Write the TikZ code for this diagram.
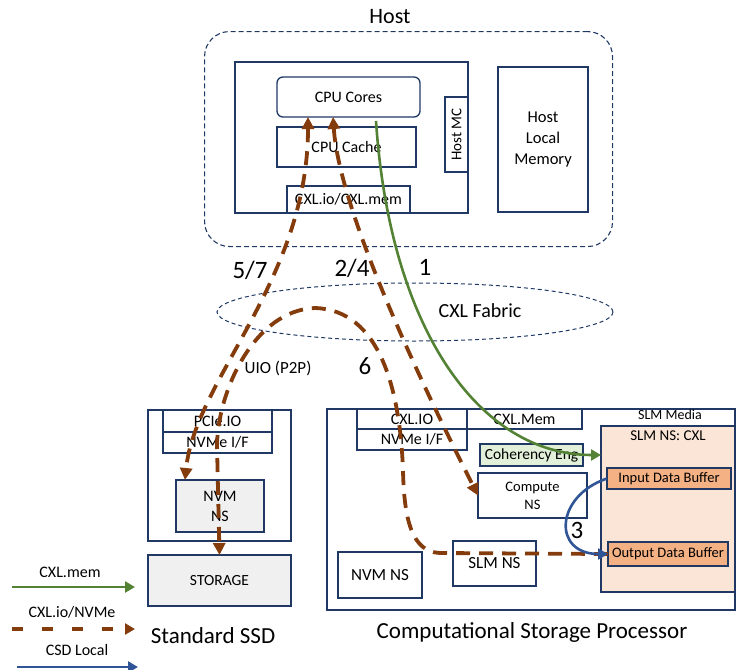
\documentclass[tikz,border=0pt]{standalone}
\usepackage{fontspec}
\setmainfont{Carlito}
\usetikzlibrary{positioning, shapes.geometric, arrows.meta}
\definecolor{boxblue}{HTML}{1F3864}
\definecolor{boxgray}{HTML}{F0F0F0}
\definecolor{buforange}{HTML}{F4B183}
\definecolor{medialight}{HTML}{FBE5D6}
\definecolor{cohgreen}{HTML}{E2F0D9}
\definecolor{memgreen}{HTML}{548235}
\definecolor{iobrown}{HTML}{843C0C}
\definecolor{localblue}{HTML}{2F5597}
\tikzset{
	node distance=0pt,
	every text node part/.style= {
		align=center
	},
	>={Triangle[length=12pt,width=12pt]},
	block/.style= {
		rectangle,
		draw=boxblue,
		line width=1.3pt,
		anchor=north west,
		inner sep=0pt,
		outer sep=0pt,
		font=\fontsize{16}{19}\selectfont
	},
	graybox/.style= {
		block,
		fill=boxgray
	},
	bufbox/.style= {
		block,
		fill=buforange,
		font=\fontsize{14.5}{17}\selectfont
	},
	title/.style= {
		font=\fontsize{23}{27}\selectfont
	},
	num/.style= {
		font=\fontsize{25}{29}\selectfont
	},
	legendtxt/.style= {
		font=\fontsize{16}{19}\selectfont
	},
	memflow/.style= {
		->,
		draw=memgreen,
		line width=2.6pt,
		>={Triangle[length=10pt,width=11pt]}
	},
	ioflow/.style= {
		draw=iobrown,
		line width=3.8pt,
		dash pattern=on 14pt off 9pt
	},
	localflow/.style= {
		->,
		draw=localblue,
		line width=2.6pt,
		>={Triangle[length=10pt,width=11pt]}
	}
}

\begin{document}
\begin{tikzpicture}[x=1pt, y=-1pt]
	\useasboundingbox (0,0) rectangle (737,670);
	
	% host side
	\node(host)[rectangle, draw=boxblue, line width=1.1pt, dash pattern=on 5pt off 3pt, rounded corners=25pt, anchor=north west, minimum width=408pt, minimum height=215pt] at (204,31) {};
	\node(hostlbl)[font=\fontsize{22}{26}\selectfont] at (390,17) {Host};
	\node(cpu)[block, minimum width=233pt, minimum height=151pt] at (235,62) {};
	\node(cores)[block, rounded corners=6pt, minimum width=143pt, minimum height=40pt] at (277,77) {CPU Cores};
	\node(cache)[block, minimum width=139pt, minimum height=40pt] at (277,127) {CPU Cache};
	\node(hostmc)[block, minimum width=23pt, minimum height=75pt, font=\fontsize{15}{18}\selectfont] at (445,97) {\rotatebox{90}{Host MC}};
	\node(cxlhost)[block, minimum width=123pt, minimum height=27pt] at (287,186) {CXL.io/CXL.mem};
	\node(hostmem)[block, minimum width=90pt, minimum height=145pt, font=\fontsize{16.5}{21}\selectfont] at (498,67) {Host\\Local\\Memory};
	
	% fabric
	\node(fabric)[ellipse, draw=boxblue, line width=1pt, dash pattern=on 4pt off 3pt, minimum width=396pt, minimum height=58pt] at (415,312) {};
	\node(fabriclbl)[font=\fontsize{20}{24}\selectfont] at (480,311) {CXL Fabric};
	
	% standard ssd
	\node(ssd)[block, minimum width=143pt, minimum height=131pt] at (148,410) {};
	\node(pcie)[block, minimum width=109pt, minimum height=22pt] at (163,410) {PCIe.IO};
	\node(nvmeif)[block, minimum width=109pt, minimum height=21pt, below=of pcie] {NVMe I/F};
	\node(nvmns)[graybox, minimum width=88pt, minimum height=52pt, font=\fontsize{16}{20}\selectfont] at (176,480) {NVM\\NS};
	\node(storage)[graybox, minimum width=143pt, minimum height=51pt, font=\fontsize{15.5}{18}\selectfont] at (148,555) {STORAGE};
	\node(ssdlbl)[title] at (213,636) {Standard SSD};
	
	% computational storage processor
	\node(csp)[block, minimum width=408pt, minimum height=201pt] at (327,409) {};
	\node(cxlio)[block, minimum width=110pt, minimum height=20pt] at (357,409) {CXL.IO};
	\node(nvmeif2)[block, minimum width=110pt, minimum height=21pt, below=of cxlio] {NVMe I/F};
	\node(cxlmem)[block, minimum width=115pt, minimum height=20pt, right=of cxlio] {CXL.Mem};
	\node(slm)[block, fill=medialight, minimum width=134pt, minimum height=166pt] at (601,426) {};
	\node(slmmedia)[font=\fontsize{14}{17}\selectfont] at (670,415) {SLM Media};
	\node(slmns)[font=\fontsize{15}{18}\selectfont] at (668,436) {SLM NS: CXL};
	\node(coh)[block, fill=cohgreen, minimum width=103pt, minimum height=22pt, font=\fontsize{15.5}{18}\selectfont] at (480,444) {Coherency Eng};
	\node(compute)[block, minimum width=109pt, minimum height=45pt, font=\fontsize{14.5}{18}\selectfont] at (478,473) {Compute\\NS};
	\node(inbuf)[bufbox, minimum width=124pt, minimum height=21pt] at (607,468) {Input Data Buffer};
	\node(outbuf)[bufbox, minimum width=120pt, minimum height=24pt] at (608,542) {Output Data Buffer};
	\node(nvmns2)[block, minimum width=84pt, minimum height=46pt, font=\fontsize{17}{20}\selectfont] at (338,552) {NVM NS};
	\node(slmns2)[block, minimum width=83pt, minimum height=45pt, font=\fontsize{17}{20}\selectfont] at (453,541) {SLM NS};
	\node(csplbl)[title] at (532,632) {Computational Storage Processor};
	
	% flows
	\draw[ioflow, <->]([xshift=-40.5pt]cores.south) .. controls (308,280) and (195,380) .. ([xshift=9pt]nvmns.north west);
	\draw[ioflow, <->]([xshift=-15.5pt]cores.south) .. controls (340,220) and (440,420) .. (compute.west);
	\draw[ioflow, ->](outbuf.west) -- (440,553) .. controls (412,552) and (404,520) .. (403,470) .. controls (400,390) and (380,310) .. (315,308) .. controls (255,310) and (218,390) .. (217,445) -- (storage.north);
	\draw[memflow]([xshift=27.5pt, yshift=-4pt]cores.south) .. controls (390,330) and (480,455) .. (coh.east -| slm.west);
	\draw[localflow](inbuf.west) .. controls (555,496) and (552,554) .. (outbuf.west);
	
	\node(n57)[num] at (250,270) {5/7};
	\node(n24)[num] at (352,268) {2/4};
	\node(n1)[num] at (425,267) {1};
	\node(n6)[num] at (365,366) {6};
	\node(n3)[num] at (577,530) {3};
	\node(uio)[font=\fontsize{17}{20}\selectfont] at (278,368) {UIO (P2P)};
	
	% legend
	\node(lgmem)[legendtxt] at (70,572) {CXL.mem};
	\coordinate(lgmemA) at (12,587);
	\coordinate(lgmemB) at (135,587);
	\draw[memflow](lgmemA) -- (lgmemB);
	\node(lgio)[legendtxt] at (72,612) {CXL.io/NVMe};
	\coordinate(lgioA) at (12,629);
	\coordinate(lgioB) at (135,629);
	\draw[ioflow, ->, >={Triangle[length=10pt,width=11pt]}, dash pattern=on 11pt off 19pt](lgioA) -- (lgioB);
	\node(lglocal)[legendtxt] at (77,650) {CSD Local};
	\coordinate(lglocalA) at (17,667);
	\coordinate(lglocalB) at (138,667);
	\draw[localflow](lglocalA) -- (lglocalB);
	
\end{tikzpicture}
\end{document}
